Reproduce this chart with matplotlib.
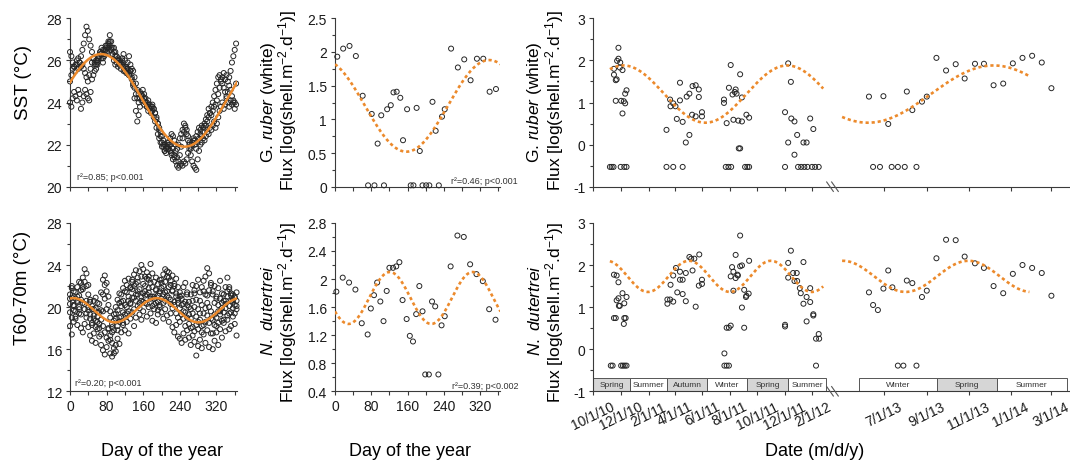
import matplotlib

matplotlib.use("Agg")
import matplotlib.dates as mdates
import matplotlib.pyplot as plt
import numpy as np
import pandas as pd
from matplotlib.patches import Rectangle
from matplotlib.ticker import FormatStrFormatter, MultipleLocator, NullLocator

plt.rcParams["font.family"] = ["Liberation Sans", "DejaVu Sans"]
plt.rcParams["mathtext.fontset"] = "custom"
plt.rcParams["mathtext.rm"] = "Liberation Sans"
plt.rcParams["mathtext.it"] = "Liberation Sans:italic"
plt.rcParams["axes.unicode_minus"] = False

# --- daily temperatures against day of the year (one list per year, every 3rd / 4th day)
SST_DAYS = np.arange(0, 366, 3)
SST_A = [26.4, 26.2, 25.9, 25.7, 25.8, 26.0, 26.1, 25.9, 26.2, 26.5,
         26.8, 27.2, 27.6, 27.4, 27.0, 26.7, 26.4, 26.1, 25.9, 26.0,
         25.8, 26.1, 26.3, 26.1, 25.9, 26.2, 26.5, 26.7, 26.9, 27.2,
         26.9, 26.6, 26.4, 26.2, 25.9, 26.1, 26.0, 25.8, 26.1, 26.3,
         26.0, 25.7, 25.9, 26.2, 25.8, 25.6, 25.5, 25.2, 24.9, 24.6,
         24.4, 24.5, 24.3, 24.6, 24.4, 24.2, 24.0, 24.1, 23.9, 23.8,
         23.9, 23.7, 23.5, 23.3, 23.0, 22.8, 22.6, 22.4, 22.2, 22.0,
         21.8, 21.9, 22.1, 22.3, 22.5, 22.4, 22.2, 22.0, 21.8, 22.0,
         22.3, 22.5, 22.7, 23.0, 22.8, 22.5, 22.2, 22.0, 21.9, 22.1,
         22.3, 22.2, 22.4, 22.6, 22.8, 22.7, 22.9, 22.8, 23.0, 22.9,
         23.1, 23.3, 23.5, 23.4, 23.6, 23.8, 23.9, 24.1, 24.4, 24.7,
         25.0, 25.2, 25.4, 25.1, 25.3, 25.0, 25.2, 25.5, 25.9, 26.2,
         26.5, 26.8]
SST_B = [24.0, 23.8, 24.2, 24.5, 24.3, 24.1, 24.6, 24.4, 23.7, 24.0,
         24.3, 24.6, 24.4, 24.2, 24.1, 24.5, 25.1, 25.3, 25.5, 25.8,
         26.0, 26.2, 26.4, 26.6, 26.5, 26.3, 26.4, 26.6, 26.8, 26.7,
         26.5, 26.3, 26.6, 26.4, 26.2, 26.0, 25.8, 25.9, 26.0, 25.7,
         25.5, 25.6, 25.4, 25.3, 25.5, 25.2, 24.8, 24.2, 23.6, 23.1,
         23.4, 23.8, 24.1, 24.3, 24.2, 24.0, 23.8, 23.9, 23.7, 23.6,
         23.8, 23.7, 23.5, 23.2, 23.0, 22.7, 22.4, 22.1, 21.9, 21.7,
         21.6, 21.8, 22.0, 21.7, 21.5, 21.3, 21.4, 21.2, 21.0, 20.9,
         21.0, 21.1, 21.0, 21.2, 21.1, 21.3, 21.6, 21.8, 21.5, 21.2,
         21.0, 20.9, 20.8, 21.3, 21.7, 22.0, 22.1, 22.3, 22.2, 22.4,
         22.6, 22.5, 22.8, 22.7, 22.9, 23.1, 22.8, 23.0, 23.3, 23.6,
         23.8, 24.0, 23.7, 23.9, 24.2, 24.0, 23.8, 24.1, 23.9, 24.0,
         23.7, 23.9]
SST_C = [25.0, 25.3, 25.6, 25.7, 25.5, 25.8, 25.6, 25.9, 25.7, 25.8,
         25.6, 25.4, 25.2, 25.0, 25.3, 25.6, 25.9, 26.1, 25.8, 25.6,
         25.9, 26.2, 26.4, 26.3, 26.1, 26.5, 26.7, 26.4, 26.6, 26.9,
         26.6, 26.3, 26.0, 25.8, 26.0, 25.7, 25.9, 25.6, 25.8, 25.5,
         25.7, 25.4, 25.6, 25.3, 25.5, 25.1, 24.9, 24.7, 24.4, 24.2,
         24.0, 24.2, 24.4, 24.1, 23.9, 24.0, 23.8, 23.6, 23.7, 23.5,
         23.6, 23.3, 23.1, 22.8, 22.5, 22.3, 22.1, 21.9, 22.0, 21.7,
         21.9, 22.1, 21.8, 22.0, 21.6, 21.8, 21.5, 21.7, 21.4, 21.2,
         21.5, 21.9, 22.3, 22.6, 22.9, 22.7, 22.4, 22.1, 21.8, 22.0,
         22.2, 22.0, 21.8, 22.1, 22.3, 22.5, 22.4, 22.6, 22.9, 23.2,
         23.4, 23.7, 23.5, 23.8, 24.0, 24.3, 24.6, 24.9, 25.2, 25.3,
         25.1, 24.9, 24.7, 24.5, 24.3, 24.5, 24.8, 24.6, 24.3, 24.1,
         24.0, 24.9]

T60_DAYS = np.arange(0, 365, 4)
T60_A = [21.2, 22.0, 21.5, 20.8, 21.9, 22.4, 21.6, 22.8, 23.6, 23.2,
         22.1, 20.5, 19.8, 19.2, 18.7, 19.5, 20.3, 21.4, 22.6, 23.0,
         22.3, 21.0, 19.6, 18.4, 17.8, 18.9, 19.7, 20.4, 21.2, 20.6,
         21.5, 22.1, 22.7, 21.8, 22.4, 23.1, 23.5, 22.8, 23.4, 24.0,
         23.6, 22.9, 23.3, 22.6, 24.1, 23.2, 22.4, 21.7, 22.2, 21.5,
         22.3, 23.1, 23.6, 23.4, 22.8, 22.1, 21.6, 22.0, 21.3, 20.7,
         21.4, 20.8, 21.9, 22.3, 21.2, 20.5, 19.8, 20.6, 21.3, 22.0,
         22.6, 21.4, 20.2, 21.5, 22.9, 23.7, 23.2, 22.1, 21.2, 20.4,
         21.0, 21.8, 22.5, 21.3, 20.6, 21.9, 22.8, 21.7, 21.1, 20.5,
         20.9, 21.4]
T60_B = [18.2, 17.4, 18.6, 19.1, 18.3, 19.4, 18.0, 17.6, 18.4, 19.0,
         18.1, 17.3, 16.8, 17.5, 16.6, 17.9, 17.2, 16.4, 15.9, 15.5,
         16.2, 16.8, 15.6, 15.3, 16.1, 15.8, 17.0, 16.5, 17.6, 18.3,
         17.8, 18.6, 17.5, 18.9, 19.5, 18.2, 19.0, 20.1, 19.3, 18.8,
         19.6, 20.4, 19.1, 20.0, 19.4, 18.7, 19.8, 18.5, 19.3, 20.2,
         19.5, 18.9, 19.8, 19.2, 18.6, 19.4, 18.1, 17.6, 18.3, 17.2,
         17.0, 16.6, 17.5, 16.9, 17.8, 17.1, 16.4, 17.3, 16.7, 15.4,
         16.3, 16.9, 16.1, 17.4, 16.6, 17.8, 16.2, 17.5, 16.0, 16.8,
         17.6, 16.4, 17.9, 17.1, 18.5, 17.7, 18.8, 17.9, 18.2, 19.1,
         18.4, 17.3]
T60_C = [20.3, 20.9, 19.7, 21.4, 20.6, 21.1, 22.3, 21.7, 22.4, 22.0,
         21.2, 20.7, 20.1, 20.6, 19.9, 20.4, 19.5, 18.8, 19.6, 20.8,
         21.5, 20.2, 19.0, 18.1, 19.3, 20.0, 20.7, 21.3, 20.5, 21.8,
         22.5, 21.4, 20.6, 21.9, 22.6, 22.0, 21.2, 22.4, 21.7, 22.9,
         22.2, 21.5, 22.7, 21.8, 21.0, 21.9, 20.8, 21.6, 20.5, 21.3,
         22.6, 22.0, 21.4, 22.9, 23.3, 22.5, 23.0, 22.2, 22.7, 21.9,
         21.0, 20.2, 19.6, 20.5, 21.4, 20.0, 21.2, 22.1, 21.6, 20.7,
         19.8, 20.6, 21.9, 22.5, 21.2, 20.4, 21.6, 22.3, 21.5, 22.0,
         20.8, 20.2, 19.6, 20.4, 21.2, 20.6, 21.5, 21.9, 21.3, 20.7,
         20.2, 20.6]
T60_D = [19.5, 19.0, 20.2, 19.6, 20.5, 20.0, 19.3, 20.4, 19.8, 20.6,
         19.7, 18.9, 18.3, 18.9, 18.1, 18.6, 18.0, 17.4, 18.2, 17.6,
         17.1, 18.0, 17.3, 16.6, 15.6, 16.4, 17.8, 18.6, 19.1, 18.5,
         19.3, 20.0, 19.6, 20.4, 20.9, 19.8, 20.6, 21.2, 20.4, 21.0,
         20.5, 21.1, 20.3, 21.4, 20.8, 20.1, 21.0, 20.4, 19.7, 20.0,
         20.8, 21.2, 20.6, 21.5, 20.9, 20.3, 19.9, 20.5, 19.4, 19.0,
         18.6, 19.3, 18.9, 18.2, 19.0, 18.4, 18.9, 18.1, 17.7, 18.3,
         17.9, 18.8, 18.2, 19.4, 18.6, 19.2, 18.5, 19.6, 18.8, 18.3,
         19.0, 18.5, 19.3, 18.7, 19.5, 19.9, 19.2, 20.1, 19.5, 19.9,
         19.4, 20.1]
T60_E = [20.8, 21.8, 20.1, 18.9, 21.0, 19.8, 20.7, 21.9, 20.3, 19.4,
         20.0, 19.3, 18.5, 19.8, 20.9, 19.1, 18.4, 19.7, 21.2, 22.1,
         19.8, 17.9, 16.9, 17.6, 18.7, 19.4, 18.2, 19.0, 20.1, 19.5,
         20.2, 19.4, 21.0, 20.3, 21.7, 20.9, 22.2, 21.5, 19.9, 20.6,
         21.3, 22.0, 21.2, 22.9, 22.3, 21.0, 20.3, 22.8, 21.1, 22.6,
         21.8, 20.4, 22.4, 21.1, 21.9, 20.7, 21.5, 20.2, 21.0, 20.4,
         19.9, 21.1, 20.3, 19.5, 20.2, 19.3, 18.0, 19.4, 20.0, 19.1,
         18.6, 19.4, 17.6, 18.3, 19.9, 21.1, 20.0, 18.9, 17.5, 19.3,
         18.2, 19.6, 20.8, 19.9, 18.8, 20.3, 21.0, 19.4, 20.6, 21.2,
         21.0, 19.8]

# --- weekly fluxes against day of the year
RUBER_DOY = [5, 18, 32, 46, 61, 73, 81, 87, 94, 102, 108, 115, 123, 129, 136, 144, 150, 159, 167,
             173, 180, 187, 193, 201, 208, 215, 222, 229, 236, 242, 256, 271, 285, 299, 313, 327, 341, 355]
RUBER_DOY_FLUX = [1.93, 2.05, 2.09, 1.94, 1.35, 0.02, 1.08, 0.02, 0.64, 1.06, 0.02, 1.15, 1.21, 1.40,
                  1.41, 1.32, 0.69, 1.15, 0.02, 0.02, 1.17, 0.53, 0.02, 0.02, 0.02, 1.26, 0.83, 0.02,
                  1.04, 1.15, 2.05, 1.77, 1.89, 1.58, 1.90, 1.90, 1.41, 1.45]
DUT_DOY = [3, 17, 31, 45, 59, 72, 79, 86, 93, 100, 107, 114, 120, 128, 135, 142, 149, 158, 165,
           172, 179, 186, 193, 199, 207, 214, 221, 228, 235, 242, 255, 270, 284, 298, 312, 326, 340, 354]
DUT_DOY_FLUX = [1.82, 2.02, 1.95, 1.85, 1.37, 1.21, 1.58, 1.77, 1.95, 1.68, 1.40, 1.83, 2.16, 2.16,
                2.18, 2.24, 1.70, 1.43, 1.19, 1.11, 1.50, 1.90, 1.54, 0.64, 0.64, 1.68, 1.61, 0.64,
                1.34, 1.47, 2.18, 2.62, 2.60, 2.21, 2.07, 1.97, 1.57, 1.42]

# --- trap time series, days after START_DATE
START_DATE = "2010-10-01"
RUBER_DAY = [37, 41, 45, 46, 46, 50, 50, 52, 53, 56, 56, 59, 60, 61, 62, 65, 65, 68, 69, 71, 71, 74, 74,
             163, 163, 171, 172, 178, 178, 183, 186, 193, 193, 199, 199, 206, 208, 214, 214, 220, 221,
             228, 228, 235, 235, 242, 242,
             291, 291, 295, 297, 301, 302, 306, 307, 310, 312, 315, 317, 319, 323, 324, 327, 327, 331,
             331, 338, 341, 343, 347, 347,
             427, 427, 434, 434, 440, 441, 448, 448, 454, 456, 463, 468, 470, 475, 477, 483, 487, 490,
             494, 502,
             982, 988, 998, 1003, 1010, 1015, 1024, 1034, 1037, 1045, 1051, 1059, 1066, 1080, 1094,
             1108, 1121, 1136, 1149, 1163, 1177, 1191, 1205, 1219, 1233, 1247]
RUBER_FLUX = [-0.53, -0.53, -0.53, 1.80, 1.66, 1.53, 1.04, 1.55, 1.99, 2.30, 2.04, 1.83, 1.95, -0.53,
              1.04, 1.77, 0.74, 1.03, -0.53, 0.98, 1.21, 1.29, -0.53,
              0.35, -0.53, 1.07, 0.91, 0.98, -0.53, 0.91, 0.61, 1.05, 1.47, 0.54, -0.53, 0.05, 1.14,
              1.21, 0.23, 0.71, 1.39, 0.67, 1.41, 1.31, 1.13, 0.77, 0.67,
              1.07, 0.99, -0.53, 0.51, -0.53, 1.35, 1.89, -0.53, 1.19, 0.59, 1.25, 1.31, 1.21, 0.57,
              -0.09, -0.09, 1.67, 0.55, 1.12, -0.53, 0.71, -0.53, 0.64, -0.53,
              0.77, -0.53, 1.93, 0.05, 1.49, 0.62, 0.55, -0.24, 0.23, -0.53, -0.53, 0.05, -0.53, 0.05,
              -0.53, 0.62, -0.53, 0.37, -0.53, -0.53,
              1.14, -0.53, -0.53, 1.15, 0.49, -0.53, -0.53, -0.53, 1.26, 0.82, -0.53, 1.02, 1.14, 2.06,
              1.76, 1.91, 1.57, 1.92, 1.92, 1.41, 1.45, 1.93, 2.06, 2.11, 1.95, 1.34]
DUT_DAY = [39, 43, 46, 46, 50, 52, 52, 56, 56, 57, 59, 62, 65, 66, 68, 69, 69, 70, 72, 74, 74,
           165, 165, 171, 172, 178, 178, 184, 187, 193, 193, 199, 199, 206, 206, 214, 218, 221, 225,
           228, 235, 236, 242, 242,
           292, 292, 297, 297, 302, 302, 306, 306, 309, 312, 312, 317, 317, 321, 322, 327, 327, 331,
           331, 336, 336, 340, 341, 346, 347,
           427, 427, 434, 434, 440, 445, 448, 453, 454, 460, 462, 468, 468, 475, 475, 483, 483, 490,
           490, 496, 496, 502, 503,
           982, 988, 995, 1003, 1010, 1016, 1024, 1032, 1037, 1045, 1051, 1059, 1066, 1080, 1094,
           1108, 1121, 1136, 1149, 1163, 1177, 1191, 1205, 1219, 1233, 1247]
DUT_FLUX = [-0.39, -0.39, 1.77, 0.74, 0.74, 1.75, 1.16, 1.59, 1.21, 1.03, 1.03, -0.39, 1.33, -0.39,
            0.60, 1.09, 0.74, -0.39, 0.74, 1.24, -0.39,
            1.08, 1.18, 1.18, 1.53, 1.13, 1.75, 1.93, 1.35, 1.84, 1.65, 1.65, 1.31, 1.14, 1.81, 2.19,
            2.15, 1.87, 2.15, 1.01, 1.51, 2.25, 1.55, 1.65,
            -0.10, -0.39, -0.39, 0.51, -0.39, 0.51, 0.56, 1.73, 1.95, 1.84, 1.39, 2.24, 1.69, 1.77,
            1.75, 2.70, 1.97, 1.99, 0.99, 1.41, 0.51, 1.24, 1.27, 1.32, 2.10,
            0.58, 0.54, 2.05, 1.70, 2.34, 1.81, 1.62, 1.81, 1.62, 1.45, 1.33, 2.07, 1.08, 1.24, 0.66,
            1.45, 1.12, 0.83, 0.80, 0.25, -0.39, 0.36, 0.25,
            1.35, 1.05, 0.93, 1.44, 1.87, 1.47, -0.39, -0.39, 1.63, 1.57, -0.39, 1.24, 1.39, 2.16,
            2.60, 2.59, 2.20, 2.04, 1.93, 1.50, 1.33, 1.79, 2.00, 1.93, 1.81, 1.27]

# harmonic fits: mean, annual amplitude, annual peak day, semi-annual amplitude, semi-annual peak day
SST_FIT = (24.1, 2.2, 68.0, 0.0, 0.0)
T60_FIT = (19.7, 0.0, 0.0, 1.15, 7.0)
RUBER_FIT = (1.2, 0.68, 340.0, 0.0, 0.0)
DUT_FIT = (1.73, 0.0, 0.0, 0.37, 121.0)
SST_STATS = "r²=0.85; p<0.001"
T60_STATS = "r²=0.20; p<0.001"
RUBER_STATS = "r²=0.46; p<0.001"
DUT_STATS = "r²=0.39; p<0.002"
FIT_SPANS = [("2010-11-07", "2012-02-25"), ("2013-05-01", "2014-01-28")]

DAY_TICKS = [0, 40, 80, 120, 160, 200, 240, 280, 320, 360]
DAY_TICK_LABELS = ["0", "", "80", "", "160", "", "240", "", "320", ""]
DATE_TICKS = ["2010-10-01", "2010-12-01", "2011-02-01", "2011-04-01", "2011-06-01", "2011-08-01",
              "2011-10-01", "2011-12-01", "2012-02-01", "2013-07-01", "2013-09-01", "2013-11-01",
              "2014-01-01", "2014-03-01"]
DATE_TICK_LABELS = ["10/1/10", "12/1/10", "2/1/11", "4/1/11", "6/1/11", "8/1/11", "10/1/11",
                    "12/1/11", "2/1/12", "7/1/13", "9/1/13", "11/1/13", "1/1/14", "3/1/14"]
SEASON_NAMES = ["Spring", "Summer", "Autumn", "Winter", "Spring", "Summer", "Winter", "Spring", "Summer"]
SEASON_STARTS = ["2010-10-01", "2010-12-22", "2011-03-15", "2011-06-12", "2011-09-08", "2011-12-09",
                 "2013-05-26", "2013-09-16", "2013-12-12"]
SEASON_ENDS = ["2010-12-22", "2011-03-15", "2011-06-12", "2011-09-08", "2011-12-09", "2012-03-02",
               "2013-09-16", "2013-12-12", "2014-03-23"]

# broken date axis: dates at the segment ends and their pixel offsets along the axis
AXIS_BREAK_DATES = ["2010-10-01", "2012-03-02", "2013-05-01", "2014-03-28"]
AXIS_BREAK_PX = [0.0, 232.6, 248.8, 476.7]

ORANGE = "#EC8A2C"
INK = "#3a3a3a"
W, H = 1070, 464


def fig_box(left, top, right, bottom):
    return [left / W, 1 - bottom / H, (right - left) / W, (bottom - top) / H]


def harmonic(doy, fit):
    mean, amp1, peak1, amp2, peak2 = fit
    doy = np.asarray(doy, dtype=float)
    return (mean + amp1 * np.cos(2 * np.pi * (doy - peak1) / 365.0)
            + amp2 * np.cos(4 * np.pi * (doy - peak2) / 365.0))


def to_num(dates):
    return mdates.date2num(pd.to_datetime(dates))


def day_num(days):
    return mdates.date2num(pd.to_datetime(START_DATE) + pd.to_timedelta(np.asarray(days), unit="D"))


def style(ax):
    for side in ("top", "right"):
        ax.spines[side].set_visible(False)
    for side in ("left", "bottom"):
        ax.spines[side].set_linewidth(0.8)
        ax.spines[side].set_color(INK)
    ax.tick_params(which="both", direction="out", color=INK, width=0.8, labelsize=10,
                   labelcolor="#1a1a1a", pad=2.5)
    ax.tick_params(which="major", length=3.2)
    ax.tick_params(which="minor", length=2.2)
    ax.yaxis.set_major_formatter(FormatStrFormatter("%g"))


def dots(ax, x, y):
    ax.scatter(x, y, s=13, facecolors="none", edgecolors="#262626", linewidths=0.7,
               clip_on=False, zorder=3)


def doy_panel(ax, days, values, fit, ylim, major, minor, stats, stats_xy, solid, labels):
    style(ax)
    dots(ax, days, values)
    grid = np.linspace(0, 365, 300)
    if solid:
        ax.plot(grid, harmonic(grid, fit), color=ORANGE, lw=1.8, zorder=4)
    else:
        ax.plot(grid, harmonic(grid, fit), color=ORANGE, lw=1.9, ls=(0, (1.2, 1.1)), zorder=4)
    ax.set_xlim(0, 365)
    ax.set_ylim(*ylim)
    ax.set_xticks(DAY_TICKS)
    ax.set_xticklabels(DAY_TICK_LABELS)
    ax.yaxis.set_major_locator(MultipleLocator(major))
    ax.yaxis.set_minor_locator(MultipleLocator(minor))
    ax.tick_params(axis="x", labelbottom=labels)
    ha = "left" if stats_xy[0] < 0.5 else "right"
    ax.text(stats_xy[0], stats_xy[1], stats, transform=ax.transAxes, fontsize=6.5,
            ha=ha, va="center", color="#333333")


def date_panel(ax, days, values, fit, ylim, labels):
    style(ax)
    knots = to_num(AXIS_BREAK_DATES)
    ax.set_xscale("function", functions=(lambda x: np.interp(x, knots, AXIS_BREAK_PX),
                                         lambda p: np.interp(p, AXIS_BREAK_PX, knots)))
    dots(ax, day_num(days), values)
    for start, end in FIT_SPANS:
        dates = pd.date_range(start, end, freq="D")
        ax.plot(mdates.date2num(dates), harmonic(dates.dayofyear - 1, fit), color=ORANGE,
                lw=1.9, ls=(0, (1.2, 1.1)), zorder=4)
    ax.set_xlim(knots[0], knots[-1])
    ax.set_ylim(*ylim)
    ax.set_xticks(to_num(DATE_TICKS))
    ax.xaxis.set_minor_locator(NullLocator())
    if labels:
        ax.set_xticklabels(DATE_TICK_LABELS, rotation=26, ha="center", fontsize=10)
    else:
        ax.tick_params(axis="x", labelbottom=False)
    ax.yaxis.set_major_locator(MultipleLocator(1))
    ax.yaxis.set_minor_locator(MultipleLocator(0.5))
    for x0 in (0.4896, 0.5000):
        ax.plot([x0, x0 + 0.0139], [0.028, -0.028], transform=ax.transAxes, color="#555555",
                lw=0.8, clip_on=False, zorder=5)


fig = plt.figure(figsize=(W / 100, H / 100), dpi=100)

ax1 = fig.add_axes(fig_box(70, 19.3, 237, 187.7))
doy_panel(ax1, np.tile(SST_DAYS, 3), SST_A + SST_B + SST_C, SST_FIT, (20, 28), 2, 1,
          SST_STATS, (0.042, 0.06), True, False)

ax4 = fig.add_axes(fig_box(70, 223.9, 237, 392.3))
doy_panel(ax4, np.tile(T60_DAYS, 5), T60_A + T60_B + T60_C + T60_D + T60_E, T60_FIT, (12, 28),
          4, 2, T60_STATS, (0.03, 0.055), True, True)

ax2 = fig.add_axes(fig_box(335, 19.3, 500.5, 187.7))
doy_panel(ax2, RUBER_DOY, RUBER_DOY_FLUX, RUBER_FIT, (0, 2.5), 0.5, 0.25,
          RUBER_STATS, (1.106, 0.034), False, False)

ax5 = fig.add_axes(fig_box(335, 223.9, 500.5, 392.3))
doy_panel(ax5, DUT_DOY, DUT_DOY_FLUX, DUT_FIT, (0.4, 2.8), 0.4, 0.2,
          DUT_STATS, (1.106, 0.037), False, True)

ax3 = fig.add_axes(fig_box(593.3, 19.3, 1070, 187.7))
date_panel(ax3, RUBER_DAY, RUBER_FLUX, RUBER_FIT, (-1, 3), False)

ax6 = fig.add_axes(fig_box(593.3, 223.9, 1070, 392.3))
date_panel(ax6, DUT_DAY, DUT_FLUX, DUT_FIT, (-1, 3), True)

for name, start, end in zip(SEASON_NAMES, SEASON_STARTS, SEASON_ENDS):
    x0, x1 = to_num([start, end])
    shade = "#d6d6d6" if name in ("Spring", "Autumn") else "white"
    ax6.add_patch(Rectangle((x0, -1), x1 - x0, 0.325, facecolor=shade, edgecolor="#555555",
                            lw=0.7, zorder=2))
    ax6.text((x0 + x1) / 2, -0.84, name, fontsize=6, ha="center", va="center", color="#333333",
             zorder=3)

# axis titles
fig.text(23 / W, 1 - 83 / H, "SST (°C)", rotation=90, ha="center", va="center", fontsize=13.5)
fig.text(23 / W, 1 - 288 / H, "T60-70m (°C)", rotation=90, ha="center", va="center", fontsize=13.5)
flux_line = r"Flux [log(shell.m$^{-2}$.d$^{-1}$)]"
for x1, x2 in ((268, 288), (535, 555)):
    fig.text(x1 / W, 1 - 102 / H, r"G. $\mathit{ruber}$ (white)", rotation=90, ha="center",
             va="center", fontsize=12.5)
    fig.text(x2 / W, 1 - 100 / H, flux_line, rotation=90, ha="center", va="center", fontsize=12.5)
    fig.text(x1 / W, 1 - 310 / H, r"$\mathit{N.\ dutertrei}$", rotation=90, ha="center",
             va="center", fontsize=12.5)
    fig.text(x2 / W, 1 - 312 / H, flux_line, rotation=90, ha="center", va="center", fontsize=12.5)

fig.text(162 / W, 1 - 452 / H, "Day of the year", ha="center", va="center", fontsize=13)
fig.text(410 / W, 1 - 452 / H, "Day of the year", ha="center", va="center", fontsize=13)
fig.text(815 / W, 1 - 452 / H, "Date (m/d/y)", ha="center", va="center", fontsize=13)

fig.savefig("out.png", dpi=100)
